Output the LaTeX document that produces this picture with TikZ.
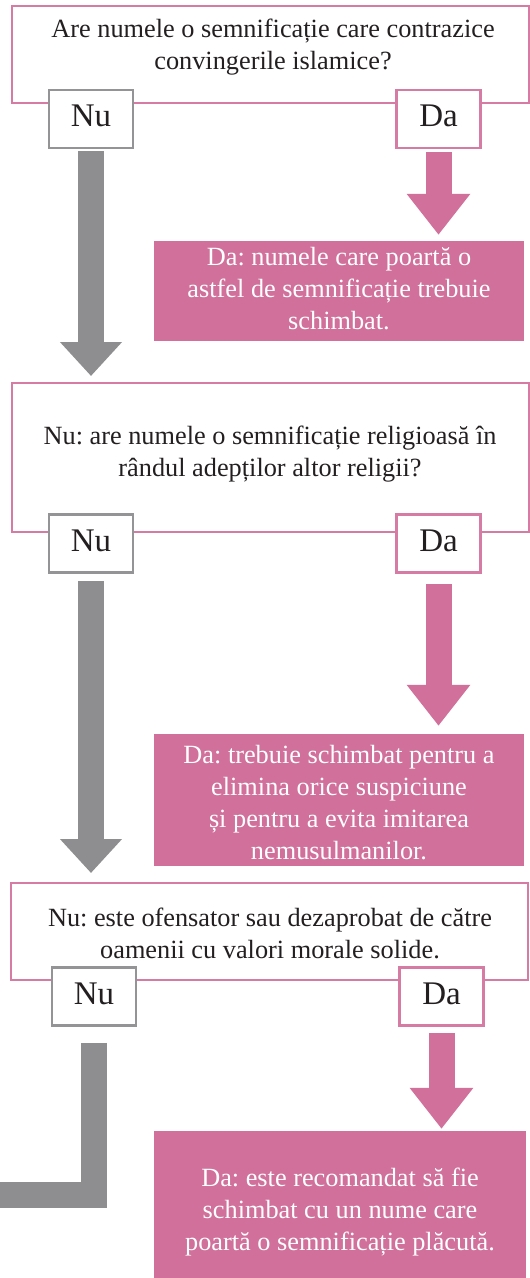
\documentclass[tikz,border=0pt]{standalone}
\usepackage{fontspec}
\setmainfont{Liberation Serif}
\frenchspacing
\usetikzlibrary{arrows.meta,positioning}
\definecolor{rosa}{HTML}{D0709B}
\definecolor{rosalinie}{HTML}{D67BA4}
\definecolor{gri}{HTML}{8E8E90}
\definecolor{grilinie}{HTML}{949496}
\definecolor{textgri}{HTML}{231F20}

\begin{document}
\begin{tikzpicture}[x=1pt,y=-1pt,node distance=347.5pt,
  intrebare/.style={draw=rosalinie,line width=2pt,minimum width=517pt,inner sep=0pt},
  textq/.style={text=textgri,align=center,inner sep=0pt,font=\fontsize{26.3}{32}\selectfont},
  nu/.style={draw=grilinie,fill=white,line width=2.5pt,minimum width=84pt,minimum height=58pt,
    inner sep=0pt,text depth=6pt,text=textgri,font=\fontsize{33}{40}\selectfont},
  da/.style={nu,draw=rosalinie},
  raspuns/.style={fill=rosa,minimum width=370pt,inner sep=0pt},
  textr/.style={text=white,align=center,inner sep=0pt,font=\fontsize{26.3}{32}\selectfont},
  linienu/.style={draw=gri,line width=26pt},
  sagnu/.style={linienu,-{Triangle[length=34pt,width=60pt]}},
  sagda/.style={draw=rosa,line width=26pt,-{Triangle[length=41pt,width=61pt]}}]

  \useasboundingbox (0,0) rectangle (530,1278);

  \node[intrebare,minimum height=97pt]  (q1) at (270.5,54.5) {};
  \node[textq,anchor=base]              (q1t) at (273,69) {Are numele o semnificație care contrazice\\convingerile islamice?};
  \node[nu]                             (nu1) at (91,119) {Nu};
  \node[da]                             (da1) [right of=nu1] {Da};
  \node[raspuns,minimum height=100pt]   (p1) at (339,291) {};
  \node[textr,anchor=base]              (p1t) at (339,329) {Da: numele care poartă o\\astfel de semnificație trebuie\\schimbat.};

  \node[intrebare,minimum height=149pt] (q2) at (270.5,457.5) {};
  \node[textq,anchor=base]              (q2t) at (270,476) {Nu: are numele o semnificație religioasă în\\rândul adepților altor religii?};
  \node[nu]                             (nu2) at (91,543.5) {Nu};
  \node[da]                             (da2) [right of=nu2] {Da};
  \node[raspuns,minimum height=132pt]   (p2) at (339,800) {};
  \node[textr,anchor=base]              (p2t) at (339,859) {Da: trebuie schimbat pentru a\\elimina orice suspiciune\\și pentru a evita imitarea\\nemusulmanilor.};

  \node[intrebare,minimum height=97pt]  (q3) at (269.5,931.5) {};
  \node[textq,anchor=base]              (q3t) at (270,958) {Nu: este ofensator sau dezaprobat de către\\oamenii cu valori morale solide.};
  \node[nu]                             (nu3) at (94,996.5) {Nu};
  \node[da]                             (da3) [right of=nu3] {Da};
  \node[raspuns,minimum width=372pt,minimum height=148pt] (p3) at (340,1205) {};
  \node[textr,anchor=base]              (p3t) at (340,1250) {Da: este recomandat să fie\\schimbat cu un nume care\\poartă o semnificație plăcută.};
  \coordinate (iesire) at (0,1195);

  \draw[sagnu,shorten <=2pt,shorten >=6pt]  (nu1.south) -- (nu1.south |- q2.north);
  \draw[sagda,shorten <=3pt,shorten >=6pt]  (da1.south) -- (da1.south |- p1.north);
  \draw[sagnu,shorten <=7pt,shorten >=9pt]  (nu2.south) -- (nu2.south |- q3.north);
  \draw[sagda,shorten <=10pt,shorten >=8pt] (da2.south) -- (da2.south |- p2.north);
  \draw[linienu] ([yshift=-16pt]nu3.south) |- (iesire);
  \draw[sagda,shorten <=6pt,shorten >=2pt]  (da3.south) -- (da3.south |- p3.north);
\end{tikzpicture}
\end{document}
